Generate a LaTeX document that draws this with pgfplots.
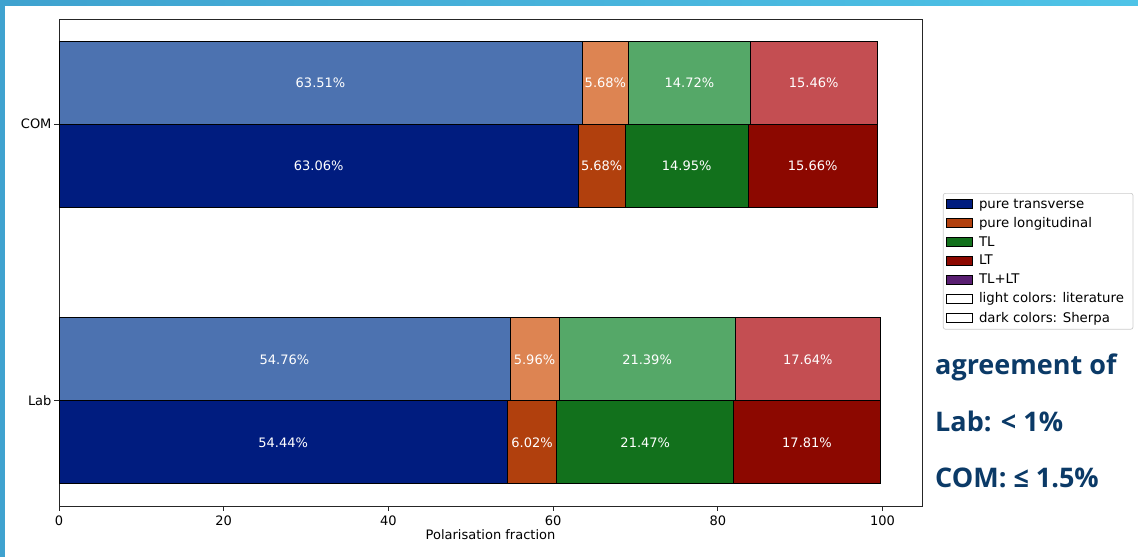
\documentclass[border=0pt]{standalone}
\usepackage{fontspec}
\setmainfont{DejaVu Sans}
\newfontfamily\osans{Open Sans}
\usepackage{pgfplots}
\pgfplotsset{compat=1.18}
\definecolor{lt1}{HTML}{4C72B0}
\definecolor{lt2}{HTML}{DD8452}
\definecolor{lt3}{HTML}{55A868}
\definecolor{lt4}{HTML}{C44E52}
\definecolor{dk1}{HTML}{001C7F}
\definecolor{dk2}{HTML}{B1400D}
\definecolor{dk3}{HTML}{12711C}
\definecolor{dk4}{HTML}{8C0800}
\definecolor{dk5}{HTML}{591E71}
\definecolor{navytxt}{HTML}{0B3A67}
\definecolor{stripL}{HTML}{3FA2CF}
\definecolor{stripR}{HTML}{4EC3E7}
\pgfplotsset{
  common/.style={at={(59pt,51pt)}, anchor=south west, scale only axis,
    width=863pt, height=487pt, xmin=0, xmax=104.8, ymin=-0.38, ymax=1.38},
  bars/.style={common, xbar stacked, bar width=0.3,
    every axis plot/.append style={draw=black, line width=0.8pt}},
  lg/.style={legend image code/.code={\draw[##1, sharp corners, line width=0.7pt] (0pt,-4.5pt) rectangle (26pt,4.5pt);}},
}
\begin{document}
\begin{tikzpicture}
\useasboundingbox (0,0) rectangle (1138pt,557pt);
\fill[white] (0,0) rectangle (1138pt,557pt);
\shade[left color=stripL, right color=stripR] (0,551pt) rectangle (1138pt,557pt);
\fill[stripL] (0,0) rectangle (4.5pt,557pt);
% light colours: literature
\begin{axis}[bars, bar shift=0.15,
  ytick={0,1}, yticklabels={Lab,COM},
  xtick={0,20,40,60,80,100},
  tick align=outside, tick pos=left,
  major tick length=5pt,
  axis line style={black!85, line width=0.8pt},
  every tick/.style={black!85, line width=0.8pt},
  /pgf/number format/assume math mode=true,
  tick label style={font=\fontsize{13}{15}\selectfont},
  xticklabel style={yshift=-1pt},
  yticklabel style={xshift=1pt},
  xlabel={Polarisation fraction},
  xlabel style={font=\fontsize{13}{15}\selectfont, yshift=3pt},
  legend style={at={(1.0243,0.6427)}, anchor=north west,
    draw=black!20, rounded corners=2pt, line width=0.7pt,
    inner xsep=3pt, inner ysep=4.5pt, row sep=5.6pt,
    font=\fontsize{13.3}{15}\selectfont,
    nodes={inner xsep=6pt, inner ysep=1pt}},
  legend cell align=left,
]
\addplot[fill=lt1, forget plot] coordinates {(54.76,0) (63.51,1)};
\addplot[fill=lt2, forget plot] coordinates {(5.96,0) (5.68,1)};
\addplot[fill=lt3, forget plot] coordinates {(21.39,0) (14.72,1)};
\addplot[fill=lt4, forget plot] coordinates {(17.64,0) (15.46,1)};
\addlegendimage{lg, fill=dk1, draw=black}
\addlegendentry{pure transverse}
\addlegendimage{lg, fill=dk2, draw=black}
\addlegendentry{pure longitudinal}
\addlegendimage{lg, fill=dk3, draw=black}
\addlegendentry{TL}
\addlegendimage{lg, fill=dk4, draw=black}
\addlegendentry{LT}
\addlegendimage{lg, fill=dk5, draw=black}
\addlegendentry{TL+LT}
\addlegendimage{lg, fill=white, draw=black}
\addlegendentry{light colors: literature}
\addlegendimage{lg, fill=white, draw=black}
\addlegendentry{dark colors: Sherpa}
\end{axis}
% dark colours: Sherpa
\begin{axis}[bars, bar shift=-0.15, hide axis]
\addplot[fill=dk1] coordinates {(54.44,0) (63.06,1)};
\addplot[fill=dk2] coordinates {(6.02,0) (5.68,1)};
\addplot[fill=dk3] coordinates {(21.47,0) (14.95,1)};
\addplot[fill=dk4] coordinates {(17.81,0) (15.66,1)};
\end{axis}
% labels
\begin{axis}[common, hide axis]
\addplot[draw=none, mark=none, nodes near coords, point meta=explicit symbolic,
  every node near coord/.style={anchor=center, text=white, font=\fontsize{13}{15}\selectfont}]
  table[meta=l] {
x y l
31.755 1.15 63.51\%
66.35 1.15 5.68\%
76.55 1.15 14.72\%
91.64 1.15 15.46\%
31.53 0.85 63.06\%
65.90 0.85 5.68\%
76.215 0.85 14.95\%
91.52 0.85 15.66\%
27.38 0.15 54.76\%
57.74 0.15 5.96\%
71.415 0.15 21.39\%
90.93 0.15 17.64\%
27.22 -0.15 54.44\%
57.45 -0.15 6.02\%
71.195 -0.15 21.47\%
90.835 -0.15 17.81\%
};
\end{axis}
\node[anchor=base west, inner sep=0pt, text=navytxt, font=\osans\bfseries\fontsize{27}{30}\selectfont] at (935pt,182pt) {agreement of};
\node[anchor=base west, inner sep=0pt, text=navytxt, font=\osans\bfseries\fontsize{27}{30}\selectfont] at (935pt,125pt) {Lab: < 1\%};
\node[anchor=base west, inner sep=0pt, text=navytxt, font=\osans\bfseries\fontsize{27}{30}\selectfont] at (935pt,69pt) {COM: ≤ 1.5\%};
\end{tikzpicture}
\end{document}
